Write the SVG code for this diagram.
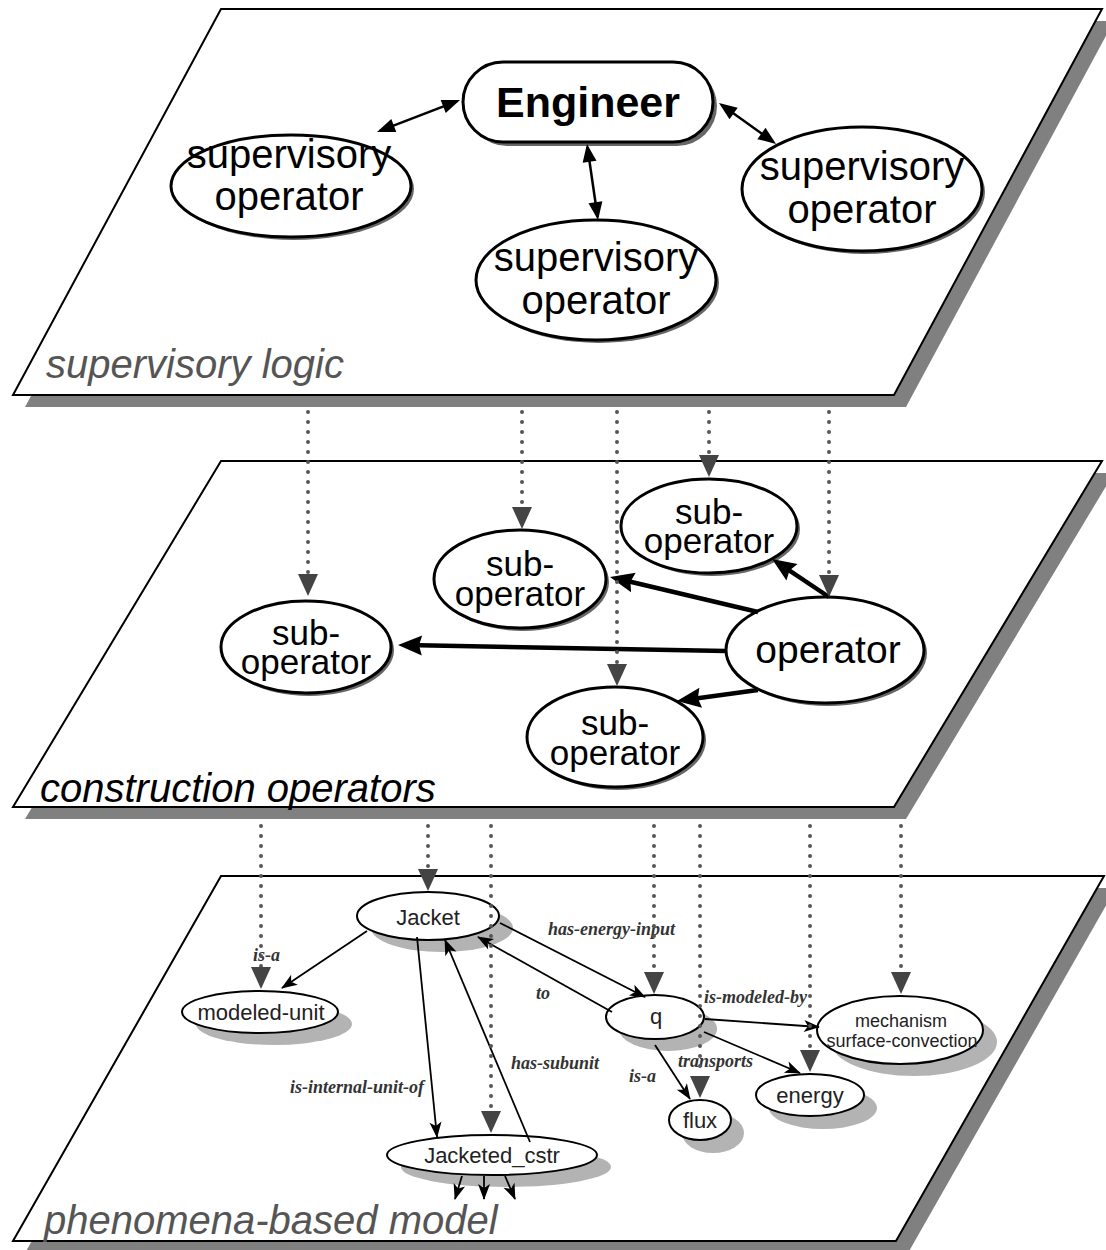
<svg xmlns="http://www.w3.org/2000/svg" width="1106" height="1250" viewBox="0 0 1106 1250">
<style>
.plane{fill:#fff;stroke:#000;stroke-width:2}
.pshadow{fill:#808080}
.big{fill:#fff;stroke:#000;stroke-width:3}
.bigsh{fill:#666}
.small{fill:#fff;stroke:#000;stroke-width:2}
.smallsh{fill:#b3b3b3}
.t40{font-family:"Liberation Sans",Arial,sans-serif;font-size:40px;fill:#000;text-anchor:middle}
.t35{font-family:"Liberation Sans",Arial,sans-serif;font-size:35px;fill:#000;text-anchor:middle}
.t22{font-family:"Liberation Sans",Arial,sans-serif;font-size:22px;fill:#222;text-anchor:middle}
.t18{font-family:"Liberation Sans",Arial,sans-serif;font-size:18px;fill:#222;text-anchor:middle}
.lvl{font-family:"Liberation Sans",Arial,sans-serif;font-size:40px;font-style:italic}
.el{font-family:"Liberation Serif","Times New Roman",serif;font-size:18px;font-style:italic;font-weight:bold;fill:#333}
.c-top{stroke:#000;stroke-width:2.5;fill:none;marker-start:url(#hTop);marker-end:url(#hTop)}
.c-mid{stroke:#000;stroke-width:4.5;fill:none;marker-end:url(#hMid)}
.c-bot{stroke:#000;stroke-width:1.8;fill:none;marker-end:url(#hBot)}
.c-dot{stroke:#555;stroke-width:4;stroke-dasharray:0 10;stroke-linecap:round;fill:none;marker-end:url(#hDot)}
</style>
<defs>
<marker id="hTop" markerUnits="userSpaceOnUse" markerWidth="18" markerHeight="14" refX="15" refY="7" orient="auto-start-reverse" overflow="visible"><path d="M0,0 L18,7 L0,14 z" fill="#000"/></marker>
<marker id="hMid" markerUnits="userSpaceOnUse" markerWidth="24" markerHeight="20" refX="16" refY="10" orient="auto" overflow="visible"><path d="M0,0 L24,10 L0,20 L3,10 z" fill="#000"/></marker>
<marker id="hBot" markerUnits="userSpaceOnUse" markerWidth="16" markerHeight="12" refX="15" refY="6" orient="auto" overflow="visible"><path d="M0,0 L16,6 L0,12 L4,6 z" fill="#000"/></marker>
<marker id="hDot" markerUnits="userSpaceOnUse" markerWidth="22" markerHeight="20" refX="0" refY="10" orient="auto" overflow="visible"><path d="M0,0 L22,10 L0,20 z" fill="#444"/></marker>
</defs>

<g id="planes">
  <polygon class="pshadow" points="233,21 1114,21 906,407 25,407"/>
  <polygon class="plane" points="221,9 1102,9 894,395 13,395"/>
  <polygon class="pshadow" points="233,473 1114,473 906,819 25,819"/>
  <polygon class="plane" points="221,461 1102,461 894,807 13,807"/>
  <polygon class="pshadow" points="233,888 1116,888 908,1253 25,1253"/>
  <polygon class="plane" points="221,876 1104,876 896,1241 13,1241"/>
  <text class="lvl" x="46" y="378" fill="#555">supervisory logic</text>
  <text class="lvl" x="40" y="802" fill="#000">construction operators</text>
  <text class="lvl" x="44" y="1234" fill="#555">phenomena-based model</text>
</g>

<g id="engineer">
  <rect x="467" y="66" width="250" height="80" rx="40" class="bigsh"/>
  <rect x="463" y="62" width="250" height="80" rx="40" class="big"/>
  <text x="588" y="117" font-family="'Liberation Sans',Arial,sans-serif" font-size="43" font-weight="bold" text-anchor="middle">Engineer</text>
</g>
<g id="sup-left">
  <ellipse cx="294" cy="189" rx="120" ry="51" class="bigsh"/>
  <ellipse cx="291" cy="186" rx="120" ry="51" class="big"/>
  <text class="t40" x="289" y="168">supervisory</text>
  <text class="t40" x="289" y="210">operator</text>
</g>
<g id="sup-bottom">
  <ellipse cx="599" cy="283" rx="120" ry="60" class="bigsh"/>
  <ellipse cx="596" cy="280" rx="120" ry="60" class="big"/>
  <text class="t40" x="596" y="271">supervisory</text>
  <text class="t40" x="596" y="314">operator</text>
</g>
<g id="sup-right">
  <ellipse cx="865" cy="192" rx="120" ry="62" class="bigsh"/>
  <ellipse cx="862" cy="189" rx="120" ry="62" class="big"/>
  <text class="t40" x="862" y="180">supervisory</text>
  <text class="t40" x="862" y="223">operator</text>
</g>

<g id="sub-topright">
  <ellipse cx="712" cy="529" rx="88" ry="47" class="bigsh"/>
  <ellipse cx="709" cy="526" rx="88" ry="47" class="big"/>
  <text class="t35" x="709" y="524">sub-</text>
  <text class="t35" x="709" y="553">operator</text>
</g>
<g id="sub-middle">
  <ellipse cx="523" cy="582" rx="86" ry="49" class="bigsh"/>
  <ellipse cx="520" cy="579" rx="86" ry="49" class="big"/>
  <text class="t35" x="520" y="576">sub-</text>
  <text class="t35" x="520" y="606">operator</text>
</g>
<g id="sub-left">
  <ellipse cx="309" cy="650" rx="85" ry="46" class="bigsh"/>
  <ellipse cx="306" cy="647" rx="85" ry="46" class="big"/>
  <text class="t35" x="306" y="645">sub-</text>
  <text class="t35" x="306" y="674">operator</text>
</g>
<g id="sub-bottom">
  <ellipse cx="618" cy="740" rx="88" ry="50" class="bigsh"/>
  <ellipse cx="615" cy="737" rx="88" ry="50" class="big"/>
  <text class="t35" x="615" y="735">sub-</text>
  <text class="t35" x="615" y="765">operator</text>
</g>
<g id="operator">
  <ellipse cx="828" cy="653" rx="99" ry="53" class="bigsh"/>
  <ellipse cx="825" cy="650" rx="99" ry="53" class="big"/>
  <text x="828" y="663" font-family="'Liberation Sans',Arial,sans-serif" font-size="39" text-anchor="middle">operator</text>
</g>

<g id="jacket">
  <ellipse cx="442" cy="928" rx="71" ry="24" class="smallsh"/>
  <ellipse cx="428" cy="916" rx="71" ry="24" class="small"/>
  <text class="t22" x="428" y="925">Jacket</text>
</g>
<g id="modeled-unit">
  <ellipse cx="274" cy="1024" rx="78" ry="21" class="smallsh"/>
  <ellipse cx="260" cy="1012" rx="78" ry="21" class="small"/>
  <text class="t22" x="261" y="1020">modeled-unit</text>
</g>
<g id="q">
  <ellipse cx="668" cy="1029" rx="49" ry="22" class="smallsh"/>
  <ellipse cx="655" cy="1017" rx="49" ry="22" class="small"/>
  <text class="t22" x="656" y="1024">q</text>
</g>
<g id="mechanism">
  <ellipse cx="914" cy="1042" rx="83" ry="34" class="smallsh"/>
  <ellipse cx="900" cy="1030" rx="83" ry="34" class="small"/>
  <text class="t18" x="901" y="1027">mechanism</text>
  <text class="t18" x="902" y="1047">surface-convection</text>
</g>
<g id="energy">
  <ellipse cx="823" cy="1108" rx="54" ry="21" class="smallsh"/>
  <ellipse cx="810" cy="1095" rx="54" ry="21" class="small"/>
  <text class="t22" x="810" y="1103">energy</text>
</g>
<g id="flux">
  <ellipse cx="713" cy="1133" rx="31" ry="20" class="smallsh"/>
  <ellipse cx="700" cy="1120" rx="31" ry="20" class="small"/>
  <text class="t22" x="700" y="1128">flux</text>
</g>
<g id="jacketed-cstr">
  <ellipse cx="506" cy="1167" rx="105" ry="20" class="smallsh"/>
  <ellipse cx="492" cy="1155" rx="105" ry="20" class="small"/>
  <text class="t22" x="492" y="1163">Jacketed_cstr</text>
</g>

<g id="connectors">
  <line class="c-top" x1="379.8" y1="130.9" x2="457.2" y2="101.1"/>
  <line class="c-top" x1="721.4" y1="104.8" x2="773.6" y2="142.2"/>
  <line class="c-top" x1="587.4" y1="147" x2="597.6" y2="217"/>

  <line class="c-mid" x1="829" y1="597" x2="778.7" y2="563.4"/>
  <line class="c-mid" x1="758" y1="612" x2="617.8" y2="578.8"/>
  <line class="c-mid" x1="726" y1="651" x2="406" y2="645.1"/>
  <line class="c-mid" x1="758" y1="690" x2="684.9" y2="699.9"/>

  <line class="c-bot" x1="367" y1="931" x2="282" y2="988"/>
  <line class="c-bot" x1="417" y1="937" x2="437" y2="1137"/>
  <line class="c-bot" x1="530" y1="1142" x2="445" y2="940"/>
  <line class="c-bot" x1="612" y1="1012" x2="478" y2="937"/>
  <line class="c-bot" x1="500" y1="923" x2="645" y2="997"/>
  <line class="c-bot" x1="705" y1="1019" x2="819" y2="1027"/>
  <line class="c-bot" x1="704" y1="1032" x2="800" y2="1073"/>
  <line class="c-bot" x1="655" y1="1045" x2="690" y2="1099"/>
  <line class="c-bot" x1="462" y1="1176" x2="455" y2="1199"/>
  <line class="c-bot" x1="484" y1="1176" x2="484" y2="1199"/>
  <line class="c-bot" x1="505" y1="1176" x2="515" y2="1199"/>

  <text class="el" x="253" y="961">is-a</text>
  <text class="el" x="290" y="1093">is-internal-unit-of</text>
  <text class="el" x="511" y="1069">has-subunit</text>
  <text class="el" x="536" y="999">to</text>
  <text class="el" x="548" y="935">has-energy-input</text>
  <text class="el" x="629" y="1082">is-a</text>
  <text class="el" x="678" y="1067">transports</text>
  <text class="el" x="704" y="1003">is-modeled-by</text>

  <line class="c-dot" x1="308" y1="412" x2="308" y2="574"/>
  <line class="c-dot" x1="522" y1="412" x2="522" y2="507"/>
  <line class="c-dot" x1="617" y1="412" x2="617" y2="664"/>
  <line class="c-dot" x1="709" y1="412" x2="709" y2="455"/>
  <line class="c-dot" x1="829" y1="412" x2="829" y2="575"/>

  <line class="c-dot" x1="261" y1="826" x2="261" y2="967"/>
  <line class="c-dot" x1="428" y1="826" x2="428" y2="869"/>
  <line class="c-dot" x1="491" y1="826" x2="491" y2="1111"/>
  <line class="c-dot" x1="654" y1="826" x2="654" y2="972"/>
  <line class="c-dot" x1="700" y1="826" x2="700" y2="1076"/>
  <line class="c-dot" x1="810" y1="826" x2="810" y2="1050"/>
  <line class="c-dot" x1="901" y1="826" x2="901" y2="972"/>
</g>
</svg>
